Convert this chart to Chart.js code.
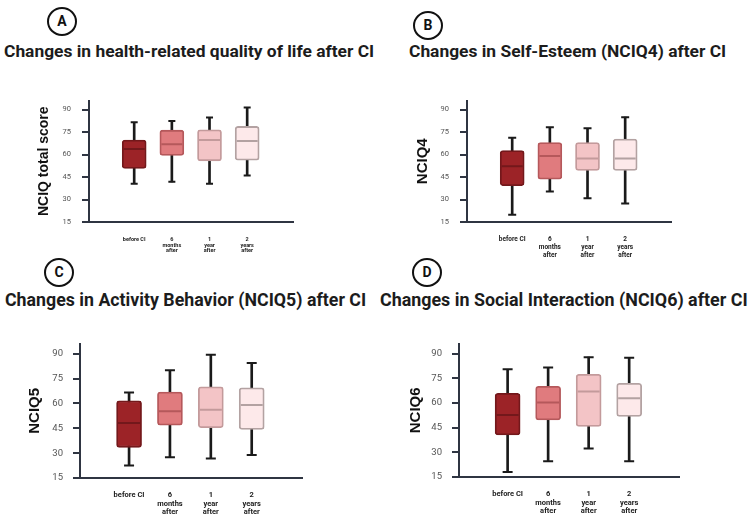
<!DOCTYPE html>
<html>
<head>
<meta charset="utf-8">
<script src="https://cdn.jsdelivr.net/npm/chart.js@4.4.1/dist/chart.umd.min.js"></script>
<style>
  body { margin: 0; background: #fff; width: 754px; height: 519px; position: relative; overflow: hidden; font-family: Roboto, sans-serif; }
  canvas { position: absolute; }
  .badge { position: absolute; width: 26px; height: 25px; border: 2px solid #111; border-radius: 50%; text-align: center; line-height: 25px; font-weight: bold; font-size: 14px; color: #111; }
  .ttl { position: absolute; font-weight: bold; color: #1c1c1c; white-space: nowrap; transform-origin: left center; }
</style>
</head>
<body>
<div class="badge" style="left:47px;top:7px">A</div>
<div class="ttl" style="left:4px;top:41px;font-size:17.4px">Changes in health-related quality of life after CI</div>
<div class="badge" style="left:413px;top:11px">B</div>
<div class="ttl" style="left:409px;top:41px;font-size:17.4px">Changes in Self-Esteem (NCIQ4) after CI</div>
<div class="badge" style="left:44px;top:258px">C</div>
<div class="ttl" style="left:5px;top:288px;font-size:19px;transform:scaleX(0.935)">Changes in Activity Behavior (NCIQ5) after CI</div>
<div class="badge" style="left:412px;top:258px">D</div>
<div class="ttl" style="left:380px;top:288px;font-size:19px;transform:scaleX(0.94)">Changes in Social Interaction (NCIQ6) after CI</div>

<canvas id="chartA" style="left:34px;top:85px" width="272" height="187"></canvas>
<canvas id="chartB" style="left:414px;top:85px" width="270" height="187"></canvas>
<canvas id="chartC" style="left:26px;top:328px" width="289" height="191"></canvas>
<canvas id="chartD" style="left:407px;top:328px" width="285" height="191"></canvas>

<script>
// categories
const timepoints = [['before CI'], ['6', 'months', 'after'], ['1', 'year', 'after'], ['2', 'years', 'after']];
const yTicks = [15, 30, 45, 60, 75, 90];

// box colours, one per timepoint
const boxFill = ['#9c2327', '#e07b7e', '#f3c4c6', '#fde9ea'];
const boxEdge = ['#73181b', '#b5585b', '#c39a9b', '#b3a2a2'];
const axisColor = '#2f3542';

// A: NCIQ total score
const totalLow = [40.5, 41.8, 40.5, 46];
const totalQ1 = [50.7, 59.4, 55.8, 56.2];
const totalMed = [63.7, 66.9, 69.6, 69];
const totalQ3 = [69.6, 76.2, 76.4, 78.7];
const totalHigh = [81.5, 82.4, 84.7, 91.3];

// B: NCIQ4 self-esteem
const esteemLow = [19.9, 35.4, 30.9, 27.4];
const esteemQ1 = [39.2, 43.5, 49.4, 49.4];
const esteemMed = [52.2, 59, 57.3, 57.3];
const esteemQ3 = [62.6, 67.9, 67.9, 70.3];
const esteemHigh = [71.1, 78.1, 77.5, 84.9];

// C: NCIQ5 activity behavior
const activityLow = [22.5, 27.5, 26.7, 28.8];
const activityQ1 = [33.5, 46.9, 45.4, 44.3];
const activityMed = [48.1, 55.2, 56.1, 59];
const activityQ3 = [61.6, 66.8, 70, 69.4];
const activityHigh = [66.5, 80, 89.4, 84.4];

// D: NCIQ6 social interaction
const socialLow = [18.1, 24.6, 32.3, 24.6];
const socialQ1 = [40.6, 49.7, 45.7, 51.8];
const socialMed = [52.6, 60.3, 67, 62.8];
const socialQ3 = [65.8, 70.1, 77.4, 71.9];
const socialHigh = [80.4, 81.6, 87.8, 87.5];

function pts(values) {
    return values.map((v, i) => ({ x: i + 1, y: v }));
}

function drawBoxPanel(id, title, low, q1, med, q3, high, cfg) {
    const boxes = q1.map((v, i) => ({ x: i + 1, y: [v, q3[i]] }));
    const whiskers = low.map((v, i) => ({ x: i + 1, y: [v, high[i]] }));
    const cap = { type: 'line', showLine: false, pointStyle: 'line', pointRadius: cfg.cap, pointBorderWidth: 2, pointBorderColor: '#1a1a1a', pointHoverRadius: cfg.cap };

    new Chart(document.getElementById(id), {
        type: 'bar',
        data: {
            datasets: [
                Object.assign({ data: pts(high), order: 0 }, cap),
                Object.assign({ data: pts(low), order: 0 }, cap),
                {
                    type: 'line', data: pts(med), showLine: false, order: 1,
                    pointStyle: 'line', pointRadius: cfg.box / 2 - 1.5, pointBorderWidth: 2,
                    pointBorderColor: boxEdge
                },
                {
                    data: boxes, order: 2, grouped: false, barThickness: cfg.box,
                    backgroundColor: boxFill, borderColor: boxEdge, borderWidth: 1.8,
                    borderRadius: 3, borderSkipped: false
                },
                {
                    data: whiskers, order: 3, grouped: false, barThickness: 2,
                    backgroundColor: '#1a1a1a'
                }
            ]
        },
        options: {
            responsive: false,
            animation: false,
            layout: { padding: { top: 10, right: 10, left: 0, bottom: 0 } },
            plugins: { legend: { display: false }, tooltip: { enabled: false } },
            scales: {
                x: {
                    type: 'linear', min: -0.2, max: 5.23, offset: false,
                    afterBuildTicks: scale => { scale.ticks = timepoints.map((t, i) => ({ value: i + 1 })); },
                    ticks: {
                        callback: (v, i) => timepoints[i],
                        font: { family: 'Roboto', weight: 'bold', size: cfg.catSize, lineHeight: cfg.catLine },
                        color: '#222', padding: cfg.catPad, maxRotation: 0, autoSkip: false
                    },
                    grid: { display: false },
                    border: { color: axisColor, width: 2 },
                    afterFit: scale => { scale.height = cfg.xHeight; }
                },
                y: {
                    min: 15, max: 96,
                    afterBuildTicks: scale => { scale.ticks = yTicks.map(v => ({ value: v })); },
                    ticks: { color: '#555', font: { family: 'Roboto', size: cfg.tickSize }, padding: cfg.tickPad },
                    grid: { drawOnChartArea: false, drawTicks: true, tickLength: 7, color: axisColor, lineWidth: 2 },
                    border: { color: axisColor, width: 2 },
                    title: {
                        display: true, text: title, color: '#111', padding: { top: cfg.titlePad, bottom: 0 },
                        font: { family: 'Liberation Sans', weight: 'bold', size: cfg.titleSize, lineHeight: 1.2 }
                    },
                    afterFit: scale => { scale.width = cfg.yWidth; }
                }
            }
        }
    });
}

drawBoxPanel('chartA', 'NCIQ total score', totalLow, totalQ1, totalMed, totalQ3, totalHigh,
    { box: 24, cap: 3.5, catSize: 5.5, catLine: 1.0, catPad: 7, xHeight: 50, tickSize: 7.5, tickPad: 11, titleSize: 14, titlePad: 2, yWidth: 55 });
drawBoxPanel('chartB', 'NCIQ4', esteemLow, esteemQ1, esteemMed, esteemQ3, esteemHigh,
    { box: 24, cap: 4, catSize: 6.5, catLine: 1.25, catPad: 5, xHeight: 50, tickSize: 7.5, tickPad: 11, titleSize: 15, titlePad: 0, yWidth: 53 });
drawBoxPanel('chartC', 'NCIQ5', activityLow, activityQ1, activityMed, activityQ3, activityHigh,
    { box: 25, cap: 5, catSize: 7.5, catLine: 1.13, catPad: 5, xHeight: 41, tickSize: 9.5, tickPad: 10, titleSize: 15, titlePad: 0, yWidth: 54 });
drawBoxPanel('chartD', 'NCIQ6', socialLow, socialQ1, socialMed, socialQ3, socialHigh,
    { box: 25, cap: 5, catSize: 7.5, catLine: 1.13, catPad: 5, xHeight: 42, tickSize: 9.5, tickPad: 10, titleSize: 15, titlePad: 0, yWidth: 52 });
</script>
</body>
</html>
